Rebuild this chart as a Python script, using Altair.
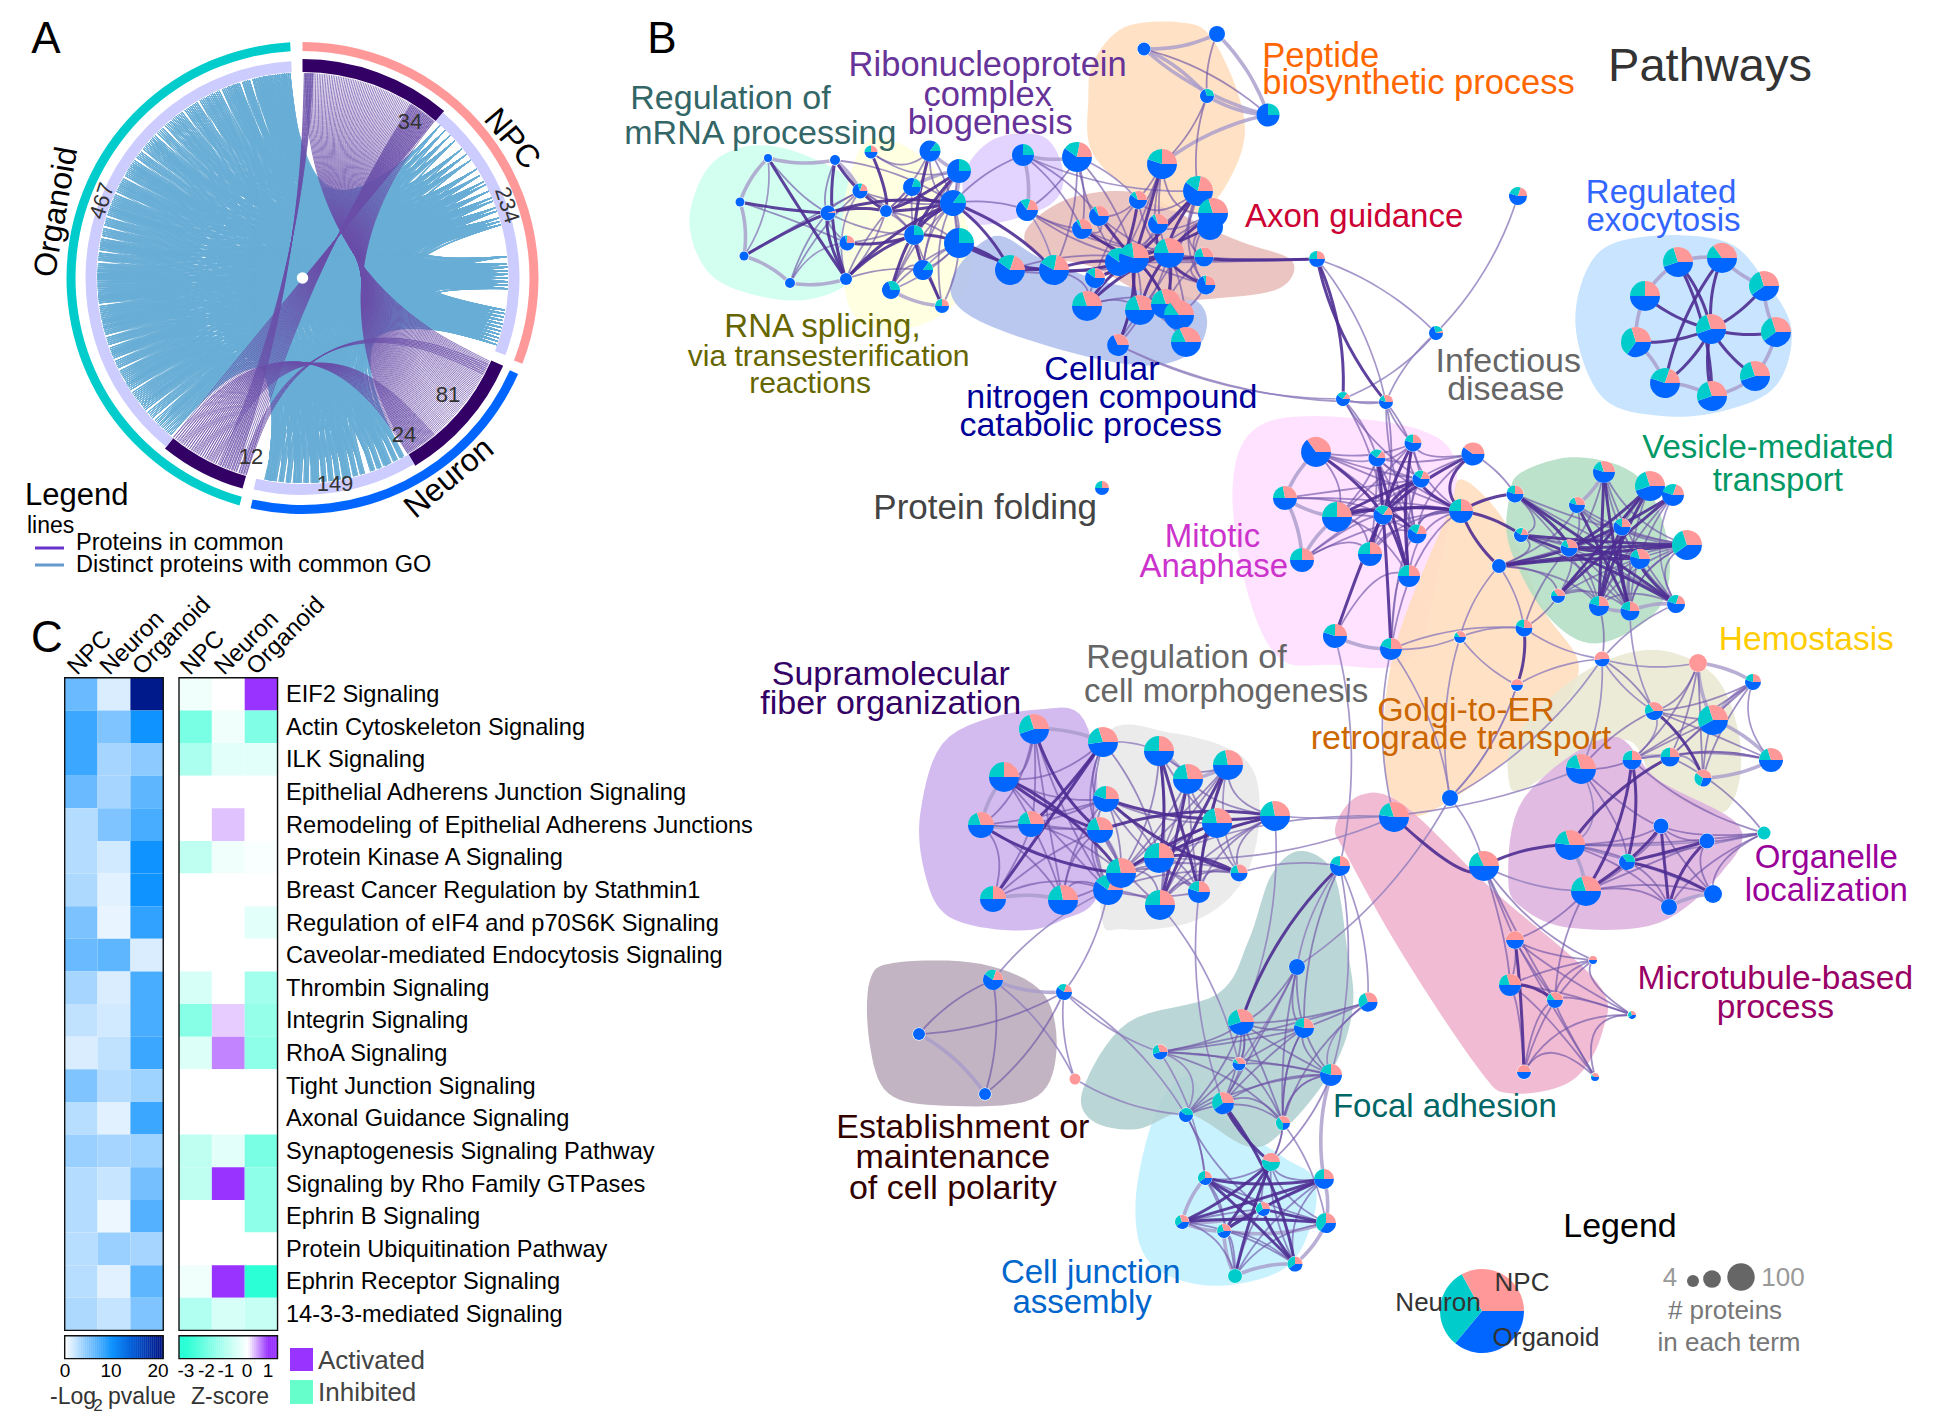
import math
import re
import altair as alt
import numpy as np
import pandas as pd

FONT = "Liberation Sans"
S = 1948 / 1568

# ---------- Panel A values ----------
CX, CY = 302.5, 278.0
outer_ring = [("NPC", 0, 111.3, "#FF9999"), ("Neuron", 114, 192.7, "#0066FF"), ("Organoid", 195.5, 357, "#00CCCC")]
inner_ring = [("NPC shared", 0, 40.3, "#330066", 219), ("NPC", 40.3, 110.8, "#CCCCFF", 217),
              ("Neuron shared", 113.6, 149, "#330066", 219), ("Neuron", 149, 193, "#CCCCFF", 217),
              ("Organoid shared", 195.9, 218.9, "#330066", 219), ("Organoid", 218.9, 357, "#CCCCFF", 217)]
organoid_anchor = [221, 223.5, 225, 228, 231, 232.5, 235, 238, 239.5, 242, 245, 248, 249, 252, 255, 257, 258.5, 261, 264,
                   265, 267.5, 270, 270.8, 273, 276, 279, 280, 283, 286, 289, 290.5, 293, 296, 298, 301, 303, 304, 307,
                   310, 312, 313, 316, 319, 321, 323, 326, 328, 331, 333, 335, 338, 340, 341, 344, 347, 349, 350, 352, 354, 355.5]
npc_anchor = [42, 44, 46, 48, 51, 53, 55, 58, 60, 62, 63, 65, 67, 68, 70, 71, 73, 74, 75, 84, 86, 87, 88, 89, 90, 91, 92, 93,
              99, 100, 101, 102, 103, 104, 105, 106, 107, 108, 109]
neuron_anchor = [151, 153, 155, 156, 158, 160, 163, 165, 167, 168, 170, 172, 174, 176, 177, 179, 181, 182, 184, 186, 188, 189, 190]
anchor_spread = [-1.0, -0.5, 0, 0.5, 1.0]
purple_bundles = [(0.8, 40, 114, 149, 81), (32, 40, 196, 219, 34), (140, 149, 205, 219, 24), (0.5, 3, 199, 204, 12), (115, 118, 196, 198, 6)]

# ---------- Panel C values ----------
pathways = ["EIF2 Signaling", "Actin Cytoskeleton Signaling", "ILK Signaling", "Epithelial Adherens Junction Signaling",
            "Remodeling of Epithelial Adherens Junctions", "Protein Kinase A Signaling", "Breast Cancer Regulation by Stathmin1",
            "Regulation of eIF4 and p70S6K Signaling", "Caveolar-mediated Endocytosis Signaling", "Thrombin Signaling",
            "Integrin Signaling", "RhoA Signaling", "Tight Junction Signaling", "Axonal Guidance Signaling",
            "Synaptogenesis Signaling Pathway", "Signaling by Rho Family GTPases", "Ephrin B Signaling",
            "Protein Ubiquitination Pathway", "Ephrin Receptor Signaling", "14-3-3-mediated Signaling"]
pval_npc = [6, 8, 8, 6, 3, 3, 3.2, 5.2, 6, 3.5, 2.5, 1.5, 5, 2.8, 4, 3, 3, 2.8, 2.8, 3.2]
pval_neuron = [1.5, 5, 3.5, 3.5, 5, 1.8, 1.2, 0.9, 6.5, 1.5, 1.8, 2.5, 3, 1.2, 3.5, 2.2, 0.7, 4, 1.2, 2.3]
pval_organoid = [20, 10, 4.5, 6.5, 7.5, 10, 10, 8.5, 1.5, 7.5, 7.5, 8, 3.8, 8, 3.8, 5.5, 7, 3.5, 6.5, 5]
z_npc = [-0.2, -1.9, -1.2, 0, 0, -0.9, 0, 0, 0, -0.6, -1.7, -0.5, 0, 0, -0.9, -0.9, 0, 0, -0.2, -1.1]
z_neuron = [0, -0.2, -0.4, 0, 0.3, -0.2, 0, 0, 0, 0, 0.25, 0.6, 0, 0, -0.4, 1.0, 0, 0, 1.0, -0.6]
z_organoid = [1.0, -1.8, -0.4, 0, 0, -0.1, 0, -0.4, 0, -1.3, -1.5, -1.6, 0, 0, -1.9, -1.6, -1.6, 0, -3, -0.8]

# ---------- Panel B values: id, x, y, radius, organoid, neuron, npc share ----------
mrna_nodes = [("r1", 768, 158, 4, 100, 0, 0), ("r2", 835, 160, 5, 100, 0, 0), ("r3", 740, 202, 4.5, 100, 0, 0),
              ("r4", 744, 256, 4.5, 100, 0, 0), ("r5", 790, 283, 5, 100, 0, 0), ("r6", 846, 279, 6, 100, 0, 0),
              ("r7", 828, 213, 7.5, 95, 0, 5), ("r8", 860, 191, 7.5, 70, 10, 20), ("r9", 847, 243, 7.5, 70, 5, 25)]
splicing_nodes = [("s1", 871, 152, 6.5, 50, 25, 25), ("s2", 886, 211, 6, 100, 0, 0), ("s3", 912, 187, 9, 80, 20, 0),
                  ("s4", 930, 151, 10.5, 85, 15, 0), ("s5", 959, 171, 12, 75, 25, 0), ("s6", 953, 203, 13, 85, 15, 0),
                  ("s7", 914, 235, 10, 75, 25, 0), ("s8", 923, 270, 10, 85, 15, 0), ("s9", 891, 290, 9, 70, 30, 0),
                  ("s10", 942, 306, 7, 50, 25, 25)]
ribo_nodes = [("rn1", 1023, 155, 11, 75, 25, 0), ("rn2", 1077, 157, 15, 60, 18, 22), ("rn3", 1027, 210, 11, 65, 15, 20),
              ("bc", 959, 243, 15, 75, 25, 0)]
cellular_nodes = [("c1", 1010, 270, 15, 60, 20, 20), ("c2", 1054, 270, 15, 58, 20, 22), ("c3", 1087, 306, 15, 50, 20, 30),
                  ("c4", 1140, 310, 15, 50, 20, 30), ("c5", 1166, 304, 15, 50, 20, 30), ("c6", 1179, 315, 15, 50, 15, 35),
                  ("c7", 1186, 342, 15, 50, 18, 32), ("c8", 1118, 345, 11, 68, 0, 32)]
axon_nodes = [("a1", 1162, 164, 15, 55, 20, 25), ("a2", 1198, 191, 15, 60, 18, 22), ("a3b", 1210, 227, 13, 100, 0, 0),
              ("a3", 1213, 213, 15, 50, 20, 30), ("a4", 1138, 200, 9, 60, 10, 30), ("a5", 1099, 216, 10, 65, 5, 30),
              ("a6", 1082, 229, 10, 65, 5, 30), ("a7", 1158, 224, 10, 65, 5, 30), ("a12", 1119, 262, 14, 60, 25, 15),
              ("a11", 1134, 258, 15, 55, 18, 27), ("a8", 1169, 253, 15, 50, 20, 30), ("a9", 1204, 257, 9.5, 50, 20, 30),
              ("a10", 1206, 285, 9.5, 70, 5, 25), ("a13", 1095, 278, 10, 60, 15, 25), ("a14", 1317, 259, 8, 50, 25, 25)]
peptide_nodes = [("p1", 1144, 49, 6.5, 100, 0, 0), ("p2", 1217, 34, 8, 100, 0, 0), ("p3", 1207, 96, 7, 70, 30, 0),
                 ("p4", 1268, 115, 11.5, 75, 25, 0)]
single_nodes = [("x1", 1518, 196, 9, 55, 25, 20), ("i3", 1436, 333, 7, 70, 25, 5), ("i1", 1343, 399, 7, 60, 25, 15),
                ("i2", 1386, 402, 7, 55, 15, 30), ("pf", 1102, 488, 7, 50, 25, 25)]
regulated_nodes = [("ex0", 1711, 329, 15, 45, 25, 30), ("ex1", 1678, 262, 15, 45, 25, 30), ("ex2", 1722, 258, 15, 50, 15, 35),
                   ("ex3", 1764, 286, 15, 40, 30, 30), ("ex4", 1645, 296, 15, 50, 25, 25), ("ex5", 1776, 332, 15, 40, 30, 30),
                   ("ex6", 1636, 342, 15, 35, 35, 30), ("ex7", 1755, 376, 15, 45, 25, 30), ("ex8", 1665, 383, 15, 55, 25, 20),
                   ("ex9", 1712, 396, 15, 45, 25, 30)]
mitotic_nodes = [("m1", 1316, 452, 15, 65, 0, 35), ("m2", 1285, 498, 12, 50, 22, 28), ("m3", 1337, 517, 15, 50, 25, 25),
                 ("m4", 1302, 560, 12, 50, 25, 25), ("m5", 1370, 554, 12, 50, 25, 25), ("m6", 1409, 576, 11, 50, 25, 25),
                 ("m7", 1417, 534, 9.5, 60, 20, 20), ("m8", 1383, 515, 9.5, 60, 25, 15), ("m9", 1377, 458, 8.5, 60, 25, 15),
                 ("m10", 1413, 443, 8.5, 55, 20, 25), ("m11", 1421, 479, 8.5, 60, 20, 20), ("m12", 1473, 454, 11.5, 60, 0, 40),
                 ("m13", 1461, 511, 12, 50, 25, 25), ("m14", 1335, 636, 12, 55, 20, 25), ("m15", 1391, 649, 11, 55, 20, 25)]
vesicle_nodes = [("v1", 1515, 494, 8.5, 55, 20, 25), ("v2", 1521, 535, 7, 60, 20, 20), ("v3", 1499, 566, 7, 100, 0, 0),
                 ("v4", 1577, 505, 8, 55, 15, 30), ("v5", 1604, 472, 11, 55, 15, 30), ("v6", 1650, 486, 15, 45, 25, 30),
                 ("v7", 1673, 495, 11, 55, 25, 20), ("v8", 1622, 527, 8.5, 60, 15, 25), ("v9", 1569, 548, 8.5, 55, 15, 30),
                 ("v10", 1640, 559, 10, 55, 15, 30), ("v11", 1687, 545, 15, 40, 30, 30), ("v12", 1558, 596, 7, 50, 15, 35),
                 ("v13", 1599, 606, 10, 55, 20, 25), ("v14", 1630, 611, 9.5, 55, 20, 25), ("v15", 1676, 604, 9, 55, 25, 20)]
golgi_nodes = [("g1", 1460, 637, 6, 50, 15, 35), ("g2", 1524, 628, 8.5, 55, 20, 25), ("g3", 1517, 685, 6, 50, 0, 50),
               ("g4", 1450, 798, 8, 100, 0, 0), ("h0", 1602, 659, 7.5, 48, 0, 52)]
hemostasis_nodes = [("he1", 1698, 663, 9, 0, 0, 100), ("he2", 1753, 682, 8, 55, 20, 25), ("he3", 1654, 711, 9, 45, 20, 35),
                    ("he4", 1713, 720, 15, 42, 28, 30), ("he5", 1632, 760, 9.5, 50, 25, 25), ("he6", 1670, 757, 9.5, 50, 25, 25),
                    ("he7", 1703, 778, 8.5, 30, 30, 40), ("he8", 1771, 760, 12, 50, 20, 30)]
organelle_nodes = [("o1", 1581, 769, 15, 52, 18, 30), ("o2", 1570, 845, 15, 52, 18, 30), ("o3", 1586, 891, 15, 50, 20, 30),
                   ("o4", 1661, 826, 7.5, 100, 0, 0), ("o5", 1707, 841, 7.5, 100, 0, 0), ("o6", 1627, 862, 8, 65, 35, 0),
                   ("o7", 1713, 894, 9, 100, 0, 0), ("o8", 1669, 907, 8, 100, 0, 0), ("o9", 1764, 833, 6.5, 0, 100, 0)]
micro_nodes = [("mt1", 1394, 817, 15, 52, 18, 30), ("mt2", 1484, 866, 15, 50, 18, 32), ("mt3", 1515, 940, 9, 50, 0, 50),
               ("mt4", 1510, 985, 11, 50, 20, 30), ("mt5", 1555, 1000, 8, 50, 15, 35), ("mt6", 1524, 1072, 7, 50, 0, 50),
               ("mt7", 1593, 960, 4, 50, 0, 50), ("mt8", 1632, 1015, 4, 40, 30, 30), ("mt9", 1595, 1077, 4, 50, 10, 40)]
supra_nodes = [("su1", 1034, 729, 15, 45, 25, 30), ("su2", 1103, 742, 15, 48, 22, 30), ("su3", 1004, 777, 15, 50, 25, 25),
               ("su4", 981, 825, 13, 50, 20, 30), ("su5", 1031, 824, 13, 50, 20, 30), ("su6", 1100, 830, 13, 50, 20, 30),
               ("su7", 1106, 799, 13, 55, 20, 25), ("su8", 993, 899, 13, 50, 25, 25), ("su9", 1063, 900, 15, 50, 22, 28),
               ("su10", 1108, 890, 15, 60, 20, 20)]
morph_nodes = [("cm1", 1159, 751, 15, 50, 25, 25), ("cm2", 1188, 779, 15, 50, 22, 28), ("cm3", 1228, 765, 15, 50, 22, 28),
               ("cm4", 1217, 823, 15, 50, 22, 28), ("cm5", 1275, 816, 15, 50, 22, 28), ("cm6", 1159, 858, 15, 50, 25, 25),
               ("cm8", 1160, 905, 15, 50, 25, 25), ("cm7", 1121, 873, 15, 50, 22, 28), ("cm9", 1199, 892, 11, 55, 20, 25),
               ("cm10", 1239, 873, 8.5, 50, 20, 30)]
polarity_nodes = [("ep1", 993, 980, 10, 60, 20, 20), ("ep2", 1064, 992, 8, 60, 20, 20), ("ep3", 919, 1034, 6, 100, 0, 0),
                  ("ep4", 985, 1094, 6, 100, 0, 0), ("ep5", 1075, 1079, 5.5, 0, 0, 100)]
focal_nodes = [("f1", 1340, 866, 10, 55, 20, 25), ("fa1", 1297, 967, 8, 100, 0, 0), ("fa2", 1368, 1002, 9.5, 40, 30, 30),
               ("fa3", 1241, 1022, 13, 45, 25, 30), ("fa4", 1304, 1028, 10, 55, 20, 25), ("fa5", 1160, 1052, 7.5, 45, 25, 30),
               ("fa6", 1239, 1064, 6.5, 55, 10, 35), ("fa7", 1331, 1075, 11, 55, 20, 25), ("fa8", 1223, 1103, 11, 40, 30, 30),
               ("fa9", 1283, 1123, 7, 25, 40, 35), ("fa10", 1186, 1115, 7, 60, 40, 0)]
junction_nodes = [("cj1", 1271, 1162, 9, 0, 55, 45), ("cj2", 1205, 1178, 7, 40, 35, 25), ("cj3", 1324, 1179, 10, 50, 25, 25),
                  ("cj4", 1263, 1209, 7, 40, 30, 30), ("cj5", 1326, 1223, 10, 35, 40, 25), ("cj6", 1182, 1222, 7, 40, 30, 30),
                  ("cj7", 1224, 1231, 7, 45, 25, 30), ("cj8", 1295, 1264, 7.5, 40, 35, 25), ("cj9", 1235, 1276, 7, 0, 100, 0)]
all_nodes = (mrna_nodes + splicing_nodes + ribo_nodes + cellular_nodes + peptide_nodes + axon_nodes + single_nodes +
             regulated_nodes + mitotic_nodes + vesicle_nodes + golgi_nodes + hemostasis_nodes + organelle_nodes + micro_nodes +
             supra_nodes + morph_nodes + polarity_nodes + focal_nodes + junction_nodes)

edges_light = """r1-r3 r3-r4 r1-r2 r2-r8 r5-r6 r4-r5 s9-s10 s3-s5 s4-s5 s5-s6 rn1-rn2 rn1-rn3 p1-p2 p1-p3 p1-p4 p2-p4 p3-p4 a1-p4
m1-m2 m2-m4 m14-m15 ep3-ep4 ep1-ep2 su1-su2 su4-su5 su8-su9 su3-su4 cm1-cm2 cm2-cm3 he1-he2 he2-he4 he4-he8 he7-he8 he5-he6
he1-he4 cj3-cj5 cj6-cj7 cj9-cj7 cj8-cj9 cj5-cj8 v7-v6 v5-v4 v13-v14 v14-v15 o7-o8 ex1-ex2 ex3-ex5 ex7-ex9 ex4-ex6 ex6-ex8 ex2-ex3
ex8-ex9 ex1-ex4 ex5-ex7 cj2-cj6 su6-cm7 cj6-cj4 cj5-cj7 m2-m3 m4-m3 fa7-cj3 o2-o3"""
edges_dark = """r3-r7 r4-r7 r7-r6 r7-s2 r2-s2 r6-s7 r9-s7 r6-s6 s1-s2 s2-s6 s2-s5 s3-s6 s4-s7 s5-s7 s6-s7 s7-bc s7-s8 s8-s10 s7-s9
bc-c1 bc-c2 s6-c2 c1-c2 c2-a12 c2-a11 a11-a8 a8-a9 a9-a14 a11-c3 a11-a1 a11-a2 a8-a2 a8-a3 a12-a4 a11-a5 a11-a6 a11-a13 a8-a7 a11-c4
a8-c5 a8-a10 a11-c8 c1-s6 c4-a8 c5-a11 c3-a8 a3b-a11 r7-s6 r2-r6 r1-r6 m1-m8 m3-m8 m3-m11 m3-m13 m8-m10 m8-m9 m8-m11 m8-m13 m8-m6
m8-m7 m9-m6 m10-m6 m11-m13 m12-m8 m12-m13 m13-v1 m13-v3 m13-v2 m8-m14 m8-m15 m5-m8 a14-i1 a14-i2 v9-v11 v9-v10 v5-v14 v6-v13 v7-v9
v4-v14 v8-v13 v1-v15 v2-v15 v3-v9 v3-v10 v3-v11 v12-v7 v12-v6 v5-v13 v8-v14 v1-v9 v2-v11 v10-v15 v6-v9 g2-g3 he3-he7 he5-o6 he6-o2
he5-o3 mt1-mt2 mt2-o2 su1-su6 su2-su5 su3-su6 su3-cm7 su7-cm5 su6-cm5 su7-cm10 su8-su2 su4-cm7 cm1-cm6 cm3-cm9 cm2-cm8 cm3-cm8 cm5-cm6
cm1-cm9 cm6-cm10 cm7-cm4 cj1-fa8 cj2-cj3 cj2-cj4 cj3-cj6 cj5-cj6 cj1-cj7 cj3-cj7 cj2-cj8 cj1-cj9 cj4-cj5 cj4-cj8 cj1-cj6 fa8-cj8
ex0-ex1 ex0-ex2 ex0-ex3 ex0-ex4 ex0-ex5 ex0-ex6 ex0-ex7 ex0-ex8 ex0-ex9 ex1-ex9 ex2-ex8 o5-o8 o4-o8 o6-o7 o5-o6 o3-o4 mt3-mt6
mt4-mt5 f1-fa3"""
edges_mid = """r8-s2 r8-s6 r9-r7 r5-r7 r1-r7 s1-s4 s3-s2 s8-s9 s9-s5 s4-s6 rn1-a5 rn1-s6 rn2-a11 rn3-s6 rn2-c2 rn3-a11 a5-a6 a4-a1 a1-a8
a6-a11 a13-a12 a10-a9 c3-c5 c4-c7 c8-c5 c7-a8 a2-a9 a3-a10 a1-a12 a7-a2 m2-m8 m4-m8 m4-m13 m5-m13 m7-m13 m7-m10 m7-m12 m1-m3 m1-m11
m9-m13 m10-m13 m11-m7 m3-m10 m3-m5 m5-m9 m6-m11 m6-m13 m10-m12 i1-m9 i1-m11 i1-m8 i2-m10 i2-m8 i2-m7 i2-m11 v1-m12 v1-v2 v2-v9 v4-v9
v5-v10 v8-v9 v8-v11 v10-v11 v12-v9 v13-v9 v14-v11 v13-v11 g2-v12 g2-v9 v3-v2 v13-h0 he3-h0 he3-he1 he3-he4 he3-he8 he4-he5 he4-he6
he6-he8 he5-he8 he4-he7 he1-he6 he2-he5 he2-he3 o1-he5 o1-he3 o2-o4 o2-o6 o3-o6 o4-o6 o4-o5 o5-o7 o4-o7 o6-o8 o8-o9 o7-o9 o5-o9 o4-o9
he5-o9 he6-o9 mt2-mt3 mt2-mt4 mt3-mt4 mt3-mt5 mt4-mt6 mt5-mt6 mt3-mt9 mt5-mt8 mt4-mt7 mt7-mt3 mt6-mt9 mt7-mt8 mt8-mt9 o3-mt3 o3-mt5
su1-su3 su1-su5 su3-su5 su4-su6 su5-su7 su5-su6 su4-su8 su5-su8 su5-su9 su6-su9 su6-su10 su7-su10 su9-su10 su2-su7 su7-cm6 su10-cm6
su10-cm8 su10-cm9 cm2-cm4 cm3-cm4 cm4-cm5 cm4-cm6 cm5-cm9 cm6-cm8 cm6-cm9 cm8-cm9 cm2-cm6 cm8-cm10 cm9-cm10 su7-cm4 fa3-fa4 fa3-fa7 fa3-fa2
fa4-fa7 fa4-fa2 fa1-fa3 fa1-fa4 fa1-fa7 fa5-fa3 fa5-fa7 fa6-fa7 fa6-fa3 fa8-fa3 fa8-fa7 fa8-fa9 fa10-fa3 fa10-fa6 fa10-fa8 fa9-fa7 fa9-fa4
fa6-fa9 cj1-fa9 cj1-cj3 cj2-cj5 cj5-cj9 cj4-cj9 cj7-cj8 cj3-cj8 fa10-cj2 fa10-cj4 p1-p4 p2-p3 a2-p3 a1-p3 ep3-ep1 ep3-ep2 ep1-ep4 ep4-ep2
c1-a11 c2-a8 c2-c3 c3-c4 c3-a11 c4-a11 c4-c5 c5-c6 c6-a8 c7-a11 c8-c4 c8-a8 c3-a4 c4-a2 a1-a5 a1-a7 a2-a4 a2-a7 a3-a7 a3-a11 a4-a8 a5-a8
a6-a8 a7-a11 a9-a11 a10-a11 a12-a8 a12-a2 a13-a8 a14-a8 a14-a11 a14-a12 c5-a9 c6-a10 a1-a3 a2-a10 a3-a9 rn3-a6 rn2-a6 rn2-a12 rn1-a6 rn3-a8
rn2-rn3 c1-a12 m1-m7 m1-m13 m3-m7 m3-m9 m4-m5 m4-m11 m5-m11 m5-m7 m6-m7 m2-m13 m2-m11 m9-m11 m9-m10 m9-m7 m10-m11 m12-m11 m12-m9 m13-m7
m3-m6 m1-m10 m14-m6 m15-m7 m15-m13 v1-v11 v1-v10 v2-v10 v3-v8 v3-v4 v3-v13 v4-v8 v4-v10 v4-v11 v5-v9 v5-v11 v5-v15 v6-v14 v6-v8 v6-v12
v7-v13 v7-v14 v8-v15 v9-v14 v9-v15 v10-v13 v10-v14 v11-v12 v11-v14 v11-v15 v12-v13 v12-v14 v13-v15 v1-v13 v2-v14 v3-v12 he2-he6 he2-he7
he8-he6 he1-he5 he1-he7 o2-o8 o3-o5 o3-o7 o3-o8 o1-o4 o1-o6 o2-o9 mt3-mt8 mt4-mt8 mt4-mt9 mt5-mt7 mt5-mt9 mt6-mt8 mt6-mt7 mt2-mt5 mt2-mt7
su1-su4 su1-su9 su2-su3 su2-su6 su3-su7 su3-su10 su4-su7 su4-su9 su6-su8 su7-su9 su8-su10 su2-su10 su1-su10 su6-cm7 su6-cm8 su7-cm7 su7-cm9
su5-cm7 su9-cm7 su10-cm10 cm1-cm3 cm1-cm4 cm1-cm7 cm1-cm8 cm2-cm5 cm2-cm7 cm2-cm9 cm3-cm5 cm3-cm6 cm3-cm7 cm4-cm7 cm4-cm8 cm4-cm9 cm4-cm10
cm5-cm7 cm5-cm8 cm5-cm10 cm6-cm7 cm7-cm8 cm7-cm9 cm7-cm10 su2-cm6 fa2-fa5 fa2-fa9 fa3-fa6 fa3-fa9 fa4-fa5 fa4-fa6 fa4-fa9 fa1-fa8 fa1-fa9
fa5-fa6 fa5-fa9 fa6-fa8 fa7-fa10 fa8-fa4 f1-fa4 fa10-fa9 cj1-fa7 cj1-cj2 cj1-cj4 cj1-cj5 cj1-cj8 cj2-cj7 cj2-cj9 cj3-cj4 cj3-cj9 cj4-cj6
cj4-cj7 cj6-cj8 cj6-cj9 cj7-cj9 s2-s3 s2-s4 s2-s7 s2-bc s3-s7 s4-bc s5-bc s6-bc s5-s8 s6-s8 s6-s9 s6-s10 s7-s10 r8-s7 r9-s6 r6-s3 r6-s2 r6-s8
r7-s7 r2-s6 r2-r7 r8-r7 r3-r9 r4-r8 r5-r8 bc-s8 bc-s9 bc-s10"""
edges_thin = """r1-r4 r5-r9 r6-r9 r6-r8 s9-bc s8-bc rn1-a2 rn3-c2 s1-s5 rn2-a4 c8-i2 x1-i3 i3-i2 i3-i1 i3-a14 a14-i2 i1-i2 i1-c8 cm5-o1 cm6-mt1 g4-g3 g4-g1 g4-h0
g4-mt2 g4-m15 g4-fa1 m15-mt1 m14-f1 f1-fa1 f1-fa7 m15-g1 g1-g2 g1-g3 g3-h0 g2-h0 h0-o1 h0-he3 m6-m15 v15-h0 v15-v7 v14-he3 he1-h0 he5-he3 he6-he7
su10-ep1 su10-ep2 ep2-ep5 ep2-fa10 ep2-fa5 ep1-ep5 ep5-fa10 cm8-fa6 cm9-fa8 cm5-fa3 f1-cm10 fa5-fa10 fa2-f1 fa2-fa7 fa6-fa1 fa9-cj1
fa7-fa9 o1-o2 o2-o5 o2-o7 mt2-o3 mt1-cm6 cm1-su2 cm10-cm3 cj5-fa9 fa5-cj2 o6-o9 he8-he2 g2-m15 v3-g2 v3-g1 g3-g4 m1-m9"""
# the point each cluster's edges are bundled through
bundle_points = {"r": (801, 217), "s": (907, 217), "a": (1135, 268), "c": (1135, 268), "m": (1384, 485), "v": (1601, 548),
                 "o": (1663, 855), "mt": (1525, 966), "cm": (1184, 823), "su": (1045, 830), "cj": (1244, 1206), "fa": (1262, 1047),
                 "he": (1700, 725)}

blob_mrna = [(555, 175), (570, 135), (600, 118), (640, 122), (690, 150), (700, 200), (680, 230), (640, 242), (590, 232), (565, 212)]
blob_splicing = [(700, 112), (740, 125), (775, 170), (780, 225), (755, 255), (715, 266), (685, 250), (678, 200), (682, 150)]
blob_ribo = [(800, 112), (840, 110), (856, 140), (845, 165), (800, 180), (780, 175), (776, 140)]
blob_peptide = [(880, 50), (905, 22), (950, 18), (975, 30), (998, 80), (1000, 120), (975, 165), (945, 170), (905, 150), (878, 120), (876, 80)]
blob_axon = [(826, 185), (860, 160), (915, 155), (965, 180), (1000, 195), (1040, 210), (1030, 232), (980, 240), (930, 240), (880, 215), (835, 205)]
blob_cellular = [(766, 225), (800, 190), (838, 208), (893, 228), (963, 242), (967, 276), (930, 294), (863, 284), (782, 255)]
blob_regulated = [(1268, 260), (1285, 205), (1330, 190), (1390, 195), (1420, 225), (1442, 265), (1430, 310), (1390, 330), (1340, 335), (1290, 320)]
blob_mitotic = [(1005, 350), (1050, 335), (1140, 345), (1172, 375), (1160, 450), (1135, 530), (1070, 535), (1030, 530), (1005, 480), (992, 400)]
blob_vesicle = [(1225, 380), (1270, 368), (1320, 385), (1343, 440), (1335, 490), (1285, 518), (1245, 495), (1215, 440), (1215, 400)]
blob_golgi = [(1177, 386), (1212, 421), (1242, 490), (1271, 539), (1235, 593), (1150, 654), (1120, 642), (1114, 579), (1127, 507), (1166, 412)]
blob_hemostasis = [(1215, 631), (1220, 593), (1273, 542), (1331, 523), (1380, 544), (1400, 593), (1398, 637), (1380, 655), (1335, 633), (1311, 596), (1265, 611), (1227, 635)]
blob_organelle = [(1214, 708), (1227, 642), (1296, 593), (1335, 628), (1400, 665), (1385, 703), (1335, 743), (1265, 747), (1227, 732)]
blob_micro = [(1075, 665), (1095, 640), (1130, 648), (1200, 715), (1285, 790), (1290, 830), (1265, 870), (1215, 880), (1190, 860), (1130, 770), (1085, 690)]
blob_supra = [(741, 653), (764, 593), (836, 571), (876, 587), (886, 711), (854, 741), (815, 749), (764, 738), (745, 705)]
blob_morph = [(888, 596), (943, 590), (1001, 610), (1014, 653), (1001, 708), (962, 741), (904, 748), (886, 732)]
blob_polarity = [(700, 790), (720, 775), (790, 776), (840, 800), (850, 850), (830, 885), (760, 890), (715, 880), (700, 840)]
blob_focal = [(872, 876), (908, 823), (980, 800), (1005, 757), (1023, 705), (1046, 685), (1073, 702), (1084, 761), (1089, 810), (1073, 860), (1034, 909), (1005, 923), (955, 896), (915, 909), (879, 902)]
blob_junction = [(914, 968), (930, 896), (956, 866), (980, 896), (1034, 932), (1057, 948), (1057, 981), (1034, 1021), (976, 1035), (926, 1017)]
blobs = [(blob_mrna, "#CCFFEE"), (blob_splicing, "#FFFFDD"), (blob_ribo, "#DDCCFF"), (blob_cellular, "#AFBFEE"), (blob_axon, "#E8BBB8"),
         (blob_peptide, "#FFDDBB"), (blob_regulated, "#BFDFFF"), (blob_mitotic, "#FFDDFF"), (blob_golgi, "#FFDDBB"), (blob_vesicle, "#B2DDC2"),
         (blob_hemostasis, "#E8E8D2"), (blob_organelle, "#DDB0DD"), (blob_micro, "#EEB0CC"), (blob_supra, "#CCB0EE"), (blob_morph, "#E8E8E8"),
         (blob_polarity, "#B8A8B8"), (blob_junction, "#C0F0FF"), (blob_focal, "#B0CFCF")]

# text, x, y (in the 1568 wide reading of the picture), size, colour
cluster_labels = [("Regulation of", 588, 80, 34, "#336666"), ("mRNA processing", 612, 108, 34, "#336666"),
                  ("Ribonucleoprotein", 795, 53, 34.5, "#663399"), ("complex", 795, 77, 34.5, "#663399"), ("biogenesis", 797, 100, 34.5, "#663399"),
                  ("Axon guidance", 1090, 175, 33, "#CC0033"), ("RNA splicing,", 662, 263, 33, "#666600"),
                  ("via transesterification", 667, 287, 30, "#666600"), ("reactions", 652, 309, 30, "#666600"),
                  ("Cellular", 887, 298, 34, "#000099"), ("nitrogen compound", 895, 320, 34, "#000099"), ("catabolic process", 878, 343, 34, "#000099"),
                  ("Regulated", 1337, 155, 33, "#3366FF"), ("exocytosis", 1339, 178, 33, "#3366FF"),
                  ("Infectious", 1214, 291, 34, "#666666"), ("disease", 1212, 314, 34, "#666666"),
                  ("Vesicle-mediated", 1423, 361, 33, "#009966"), ("transport", 1431, 387, 33, "#009966"),
                  ("Protein folding", 793, 409, 35, "#444444"), ("Mitotic", 976, 432, 33, "#CC33CC"), ("Anaphase", 977, 456, 33, "#CC33CC"),
                  ("Hemostasis", 1454, 515, 33.5, "#FFCC00"), ("Supramolecular", 717, 543, 34, "#330066"), ("fiber organization", 717, 567, 34, "#330066"),
                  ("Regulation of", 955, 530, 34, "#666666"), ("cell morphogenesis", 987, 557, 33, "#666666"),
                  ("Golgi-to-ER", 1180, 572, 34, "#CC6600"), ("retrograde transport", 1176, 595, 34, "#CC6600"),
                  ("Organelle", 1470, 691, 33, "#990099"), ("localization", 1470, 717, 33, "#990099"),
                  ("Microtubule-based", 1429, 788, 33.5, "#990066"), ("process", 1429, 811, 33.5, "#990066"),
                  ("Focal adhesion", 1163, 891, 33, "#006666"), ("Establishment or", 775, 908, 34, "#330000"),
                  ("maintenance", 767, 932, 34, "#330000"), ("of cell polarity", 767, 957, 34, "#330000"),
                  ("Cell junction", 878, 1025, 33, "#0066CC"), ("assembly", 871, 1049, 33, "#0066CC")]
left_labels = [("Peptide", 1016, 46, 34.5, "#FF6600"), ("biosynthetic process", 1016, 68, 34.5, "#FF6600")]

# ---------- scales ----------
xs = alt.Scale(domain=[8, 1940], nice=False, zero=False)
ys = alt.Scale(domain=[1416, 8], nice=False, zero=False)
X = alt.X("x:Q", scale=xs, axis=None)
Y = alt.Y("y:Q", scale=ys, axis=None)
X2 = alt.X2("x2:Q")
Y2 = alt.Y2("y2:Q")


def bez(p, q, c, n=7):
    out = []
    for k in range(n):
        t = k / (n - 1)
        out.append(((1 - t) ** 2 * p[0] + 2 * t * (1 - t) * c[0] + t * t * q[0],
                    (1 - t) ** 2 * p[1] + 2 * t * (1 - t) * c[1] + t * t * q[1]))
    return out


def rim(a, r=205):
    t = math.radians(a)
    return (CX + r * math.sin(t), CY - r * math.cos(t))


# chord rows
chords = []
cid = 0


def chord(a, b, colour, w):
    global cid
    cid += 1
    for k, (x, y) in enumerate(bez(rim(a), rim(b), (CX, CY))):
        chords.append({"id": cid, "k": k, "x": round(x, 1), "y": round(y, 1), "c": colour, "w": w})


BLUE = "#68AED6"
for i, a in enumerate(organoid_anchor):
    reach = len(npc_anchor) if a > 340 else 26
    for k in range(reach):
        chord(min(a + anchor_spread[k % 5], 356.5), npc_anchor[(i * 5 + k * 2) % len(npc_anchor)], BLUE, 0.7)
    for k in range(10):
        chord(min(a + anchor_spread[(k + 2) % 5], 356.5), neuron_anchor[(i * 3 + k * 5) % len(neuron_anchor)], BLUE, 0.7)
for i, a in enumerate(neuron_anchor):
    for k in range(16):
        chord(a + anchor_spread[k % 5] * 0.6, npc_anchor[(i * 4 + k * 7) % len(npc_anchor)], BLUE, 0.7)
for a1, a2, b1, b2, n in purple_bundles:
    for j in range(n):
        f = j / max(n - 1, 1)
        chord(a1 + (a2 - a1) * f, b1 + (b2 - b1) * f, "#6A4DA8", 0.75)

chord_layer = alt.Chart(pd.DataFrame(chords)).mark_line(interpolate="catmull-rom").encode(
    x=X, y=Y, detail="id:N", order="k:Q",
    color=alt.Color("c:N", scale=None), size=alt.Size("w:Q", scale=None))

ring_rows = [{"x": CX, "y": CY, "t0": math.radians(a), "t1": math.radians(b), "r": 236, "r0": 227, "c": c} for _, a, b, c in outer_ring]
ring_rows += [{"x": CX, "y": CY, "t0": math.radians(a), "t1": math.radians(b), "r": r, "r0": 206, "c": c} for _, a, b, c, r in inner_ring]


def arc_layer(rows):
    return alt.Chart(pd.DataFrame(rows)).mark_arc().encode(
        x=X, y=Y,
        theta=alt.Theta("t0:Q", scale=None, stack=None), theta2=alt.Theta2("t1:Q"),
        radius=alt.Radius("r:Q", scale=None), radius2=alt.Radius2("r0:Q"),
        color=alt.Color("c:N", scale=None))


hole = alt.Chart(pd.DataFrame([{"x": CX, "y": CY, "s": 133}])).mark_circle(color="white", opacity=1).encode(
    x=X, y=Y, size=alt.Size("s:Q", scale=None))

# ---------- network ----------
pos = {n[0]: n for n in all_nodes}


def smooth(poly):
    pts = [(p[0] * S, p[1] * S) for p in poly]
    n = len(pts)
    out = []
    for i in range(n):
        p0, p1, p2, p3 = pts[i - 1], pts[i], pts[(i + 1) % n], pts[(i + 2) % n]
        for k in range(8):
            t = k / 8
            out.append([round(0.5 * (2 * p1[d] + (p2[d] - p0[d]) * t + (2 * p0[d] - 5 * p1[d] + 4 * p2[d] - p3[d]) * t * t +
                                     (3 * p1[d] - p0[d] - 3 * p2[d] + p3[d]) * t ** 3), 1) for d in (0, 1)])
    out.append(out[0])
    return out


features = [{"type": "Feature", "geometry": {"type": "Polygon", "coordinates": [smooth(p)]}, "properties": {"fill": c}} for p, c in blobs]
blob_layer = alt.Chart(alt.Data(values=features)).mark_geoshape(opacity=0.86, stroke=None).encode(
    color=alt.Color("properties.fill:N", scale=None)
).project(type="identity", scale=1, translate=[-8, -8])


def prefix(name):
    return re.match(r"[a-z]+", name).group(0)


edge_rows = []
eid = 0
for spec, colour, w, op in [(edges_light, "#A79BCB", 3.6, 0.8), (edges_thin, "#8F7DBD", 1.7, 0.8),
                            (edges_mid, "#6F55A8", 1.8, 0.65), (edges_dark, "#4E2E92", 3.0, 0.9)]:
    for pair in spec.split():
        u, v = pair.split("-")
        p, q = pos[u], pos[v]
        eid += 1
        mx, my = (p[1] + q[1]) / 2, (p[2] + q[2]) / 2
        dx, dy = q[1] - p[1], q[2] - p[2]
        pu, pv = prefix(u), prefix(v)
        if pu == pv and pu in bundle_points and not (spec is edges_light):
            hx, hy = bundle_points[pu]
            c = (0.6 * mx + 0.4 * hx, 0.6 * my + 0.4 * hy)
        else:
            b = 0.12 if eid % 2 else -0.12
            c = (mx - dy * b, my + dx * b)
        for k, (x, y) in enumerate(bez(p[1:3], q[1:3], c)):
            edge_rows.append({"id": eid, "k": k, "x": round(x, 1), "y": round(y, 1), "c": colour, "w": w, "o": op})
edge_layer = alt.Chart(pd.DataFrame(edge_rows)).mark_line(interpolate="catmull-rom").encode(
    x=X, y=Y, detail="id:N", order="k:Q",
    color=alt.Color("c:N", scale=None), size=alt.Size("w:Q", scale=None), opacity=alt.Opacity("o:Q", scale=None))

halo_rows = [{"x": n[1], "y": n[2], "s": math.pi * (n[3] + 1.4) ** 2} for n in all_nodes]
halo_layer = alt.Chart(pd.DataFrame(halo_rows)).mark_circle(color="white", opacity=1).encode(
    x=X, y=Y, size=alt.Size("s:Q", scale=None))


def pie_rows(x, y, r, o, n, p):
    rows = []
    start = math.pi / 2
    total = o + n + p
    for share, colour in ((o, "#0066FF"), (n, "#00CCCC"), (p, "#FF9999")):
        if share <= 0:
            continue
        end = start + 2 * math.pi * share / total
        rows.append({"x": x, "y": y, "t0": start, "t1": end, "r": r, "r0": 0, "c": colour})
        start = end
    return rows


pie_all = []
for n in all_nodes:
    pie_all += pie_rows(n[1], n[2], n[3], n[4], n[5], n[6])
pie_all += pie_rows(1482, 1311, 42, 36, 31, 33)

# ---------- heatmaps ----------
H_TOP, H_ROW = 677.8, 32.63
P_LEFT, Z_LEFT, COL = 64.7, 179.0, 32.85
heat_rows, z_rows = [], []
for i in range(20):
    for j, col in enumerate((pval_npc, pval_neuron, pval_organoid)):
        heat_rows.append({"x": P_LEFT + j * COL, "x2": P_LEFT + (j + 1) * COL, "y": H_TOP + i * H_ROW, "y2": H_TOP + (i + 1) * H_ROW, "v": col[i]})
    for j, col in enumerate((z_npc, z_neuron, z_organoid)):
        z_rows.append({"x": Z_LEFT + j * COL, "x2": Z_LEFT + (j + 1) * COL, "y": H_TOP + i * H_ROW, "y2": H_TOP + (i + 1) * H_ROW, "v": col[i]})
BAR_N = 50
for k in range(BAR_N):
    v = 21 * (k + 0.5) / BAR_N
    heat_rows.append({"x": P_LEFT + 98.5 * k / BAR_N, "x2": P_LEFT + 98.5 * (k + 1) / BAR_N + 0.3, "y": 1335.7, "y2": 1358.6, "v": v})
    v = -3.34 + 4.78 * (k + 0.5) / BAR_N
    z_rows.append({"x": Z_LEFT + 98.5 * k / BAR_N, "x2": Z_LEFT + 98.5 * (k + 1) / BAR_N + 0.3, "y": 1335.7, "y2": 1358.6, "v": v})

heat_layer = alt.Chart(pd.DataFrame(heat_rows)).mark_rect().encode(
    x=X, x2=X2, y=Y, y2=Y2,
    color=alt.Color("v:Q", legend=None, scale=alt.Scale(domain=[0, 5, 10, 15, 20], range=["#FFFFFF", "#80C4FF", "#0F94FF", "#0558D2", "#001A8C"],
                                                        clamp=True, interpolate="rgb")))
z_layer = alt.Chart(pd.DataFrame(z_rows)).mark_rect().encode(
    x=X, x2=X2, y=Y, y2=Y2,
    color=alt.Color("v:Q", legend=None, scale=alt.Scale(domain=[-3, 0, 1], range=["#2BFFD5", "#FFFFFF", "#9933FF"], clamp=True, interpolate="rgb")))
frames = [(P_LEFT, P_LEFT + 3 * COL, H_TOP, H_TOP + 20 * H_ROW), (Z_LEFT, Z_LEFT + 3 * COL, H_TOP, H_TOP + 20 * H_ROW),
          (P_LEFT, P_LEFT + 98.5, 1335.7, 1358.6), (Z_LEFT, Z_LEFT + 98.5, 1335.7, 1358.6)]
frame_layer = alt.Chart(pd.DataFrame([{"x": a, "x2": b, "y": c, "y2": d} for a, b, c, d in frames])).mark_rect(
    fillOpacity=0, stroke="#111111", strokeWidth=1.4).encode(x=X, x2=X2, y=Y, y2=Y2)
swatches = [(290, 313, 1348, 1371, "#9933FF"), (290, 313, 1380, 1404, "#66FFCC")]
swatch_layer = alt.Chart(pd.DataFrame([{"x": a, "x2": b, "y": c, "y2": d, "c": e} for a, b, c, d, e in swatches])).mark_rect().encode(
    x=X, x2=X2, y=Y, y2=Y2, color=alt.Color("c:N", scale=None))
legend_lines = [(35, 64, 548, "#6633CC"), (35, 64, 565, "#6699CC")]
legend_line_layer = alt.Chart(pd.DataFrame([{"x": a, "x2": b, "y": c, "c": d} for a, b, c, d in legend_lines])).mark_rule(strokeWidth=3).encode(
    x=X, x2=X2, y=Y, color=alt.Color("c:N", scale=None))
size_key = [(1693, 1281, 6.8), (1712, 1279, 10), (1741, 1277, 15.5)]
size_layer = alt.Chart(pd.DataFrame([{"x": a, "y": b, "s": math.pi * r * r} for a, b, r in size_key])).mark_circle(color="#666666", opacity=1).encode(
    x=X, y=Y, size=alt.Size("s:Q", scale=None))

# ---------- text ----------
center = []
left = []


def T(store, text, x, y, size, colour="#000000", angle=0):
    store.append({"t": text, "x": x, "y": y, "s": size, "c": colour, "a": angle})


T(center, "A", 46, 40, 44); T(center, "B", 662, 40, 44); T(center, "C", 47, 639, 44)
T(center, "Pathways", 1710, 67, 47, "#333333")
T(center, "NPC", 512, 139, 32, "#000000", 50); T(center, "Organoid", 56, 212, 32, "#000000", 280); T(center, "Neuron", 449, 478, 32, "#000000", 320)
for s, x, y, a in [("34", 410, 122, 0), ("234", 507, 205, 72), ("467", 102, 201, 288), ("81", 448, 395, 0), ("24", 404, 435, 0), ("149", 335, 484, 0), ("12", 251, 457, 0)]:
    T(center, s, x, y, 22, "#333333", a)
T(left, "Legend", 25, 496, 31); T(left, "lines", 27, 526, 23)
T(left, "Proteins in common", 76, 543, 23.5); T(left, "Distinct proteins with common GO", 76, 565, 23.5)
for i, p in enumerate(pathways):
    T(left, p, 286, H_TOP + (i + 0.5) * H_ROW + 1, 23.6)
for x, name in [(72, "NPC"), (104.5, "Neuron"), (137, "Organoid"), (185, "NPC"), (219, "Neuron"), (251, "Organoid")]:
    T(left, name, x, 671, 24, "#000000", 315)
for x, s in [(65, "0"), (111, "10"), (158, "20"), (186, "-3"), (206.5, "-2"), (226, "-1"), (247, "0"), (268, "1")]:
    T(center, s, x, 1371, 19)
T(left, "-Log", 50, 1397, 23, "#333333"); T(center, "2", 98, 1406, 17, "#333333"); T(left, "pvalue", 108, 1397, 23, "#333333")
T(center, "Z-score", 230, 1397, 23, "#333333")
T(left, "Activated", 318, 1361, 26, "#444444"); T(left, "Inhibited", 318, 1393, 26, "#444444")
for t, x, y, s, c in cluster_labels:
    T(center, t, x * S, y * S, s, c)
for t, x, y, s, c in left_labels:
    T(left, t, x * S, y * S, s, c)
T(center, "Legend", 1620, 1227, 34)
T(center, "NPC", 1522, 1283, 26, "#333333"); T(center, "Neuron", 1438, 1303, 26, "#333333"); T(center, "Organoid", 1546, 1338, 26, "#333333")
T(center, "4", 1670, 1278, 26, "#999999"); T(center, "100", 1783, 1278, 26, "#999999")
T(center, "# proteins", 1725, 1311, 26, "#777777"); T(center, "in each term", 1729, 1343, 26, "#777777")


def text_layer(rows, align):
    return alt.Chart(pd.DataFrame(rows)).mark_text(font=FONT, align=align, baseline="middle").encode(
        x=X, y=Y, text="t:N", size=alt.Size("s:Q", scale=None),
        color=alt.Color("c:N", scale=None), angle=alt.Angle("a:Q", scale=None))


chart = alt.layer(
    blob_layer, edge_layer, halo_layer, arc_layer(pie_all),
    chord_layer, hole, arc_layer(ring_rows),
    heat_layer, z_layer, frame_layer, swatch_layer, legend_line_layer, size_layer,
    text_layer(center, "center"), text_layer(left, "left"),
).resolve_scale(color="independent").properties(
    width=1932, height=1408, padding=0, autosize=alt.AutoSizeParams(type="none"), background="white"
).configure_view(stroke=None)

chart.save("out.html", embed_options={"renderer": "svg", "actions": False})
